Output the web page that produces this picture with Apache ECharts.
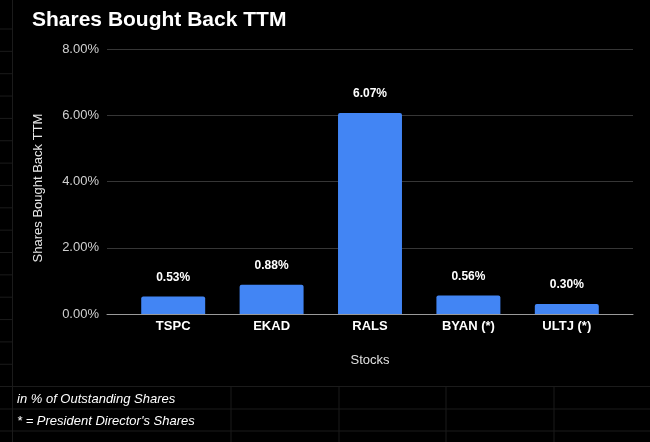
<!DOCTYPE html>
<html><head><meta charset="utf-8">
<script src="https://cdn.jsdelivr.net/npm/echarts@6/dist/echarts.min.js"></script>
<style>html,body{margin:0;padding:0;background:#000;}#c{width:650px;height:442px;}</style>
</head><body><div id="c"></div>
<script>
const categories = ['TSPC', 'EKAD', 'RALS', 'BYAN (*)', 'ULTJ (*)'];
const values = [0.53, 0.88, 6.07, 0.56, 0.30];
const yTicks = [0, 2, 4, 6, 8];
const footnotes = ['in % of Outstanding Shares', "* = President Director's Shares"];

const F = 'Liberation Sans, Arial, sans-serif';
const chart = echarts.init(document.getElementById('c'), null, {renderer: 'canvas'});

// faint spreadsheet cell lines behind chart
const sheet = [];
const cellCol = '#1b1b1b';
for (let y = 29; y < 385; y += 22.35) sheet.push({type:'line', shape:{x1:0,y1:y,x2:12,y2:y}, style:{stroke:cellCol,lineWidth:1}, z:-1});
[386.5, 409, 431].forEach(y => sheet.push({type:'line', shape:{x1:0,y1:y,x2:650,y2:y}, style:{stroke:cellCol,lineWidth:1}, z:-1}));
sheet.push({type:'line', shape:{x1:12.5,y1:0,x2:12.5,y2:442}, style:{stroke:cellCol,lineWidth:1}, z:-1});
[231, 339, 446, 554].forEach(x => sheet.push({type:'line', shape:{x1:x,y1:387,x2:x,y2:442}, style:{stroke:cellCol,lineWidth:1}, z:-1}));

chart.setOption({
  backgroundColor: '#000',
  animation: false,
  title: {
    text: 'Shares Bought Back TTM', left: 27, top: 5,
    textStyle: {color: '#fff', fontFamily: F, fontSize: 21, fontWeight: 'bold'}
  },
  graphic: sheet.concat(footnotes.map((t, i) => ({
    type: 'text', left: 17, top: 393 + i * 22,
    style: {text: t, fill: '#fff', font: 'italic 13px ' + F}
  }))).concat([{
    type: 'text', x: 38, y: 188, rotation: Math.PI / 2,
    style: {text: 'Shares Bought Back TTM', fill: '#e8e8e8', font: '13px ' + F,
            align: 'center', verticalAlign: 'middle'}
  }]),
  grid: [
    {left: 107, right: 17, top: 49, bottom: 128},
    {left: 124, width: 492, top: 49, bottom: 128}
  ],
  xAxis: [
    {gridIndex: 0, type: 'category', data: [''], axisLine: {show: true, lineStyle: {color: '#9a9a9a'}},
     axisTick: {show: false}, axisLabel: {show: false}},
    {gridIndex: 1, type: 'category', data: categories,
     name: 'Stocks', nameLocation: 'middle', nameGap: 40,
     nameTextStyle: {color: '#e0e0e0', fontFamily: F, fontSize: 13},
     axisLine: {show: false}, axisTick: {show: false},
     axisLabel: {color: '#fff', fontFamily: F, fontSize: 13, fontWeight: 'bold', margin: 6}}
  ],
  yAxis: [
    {gridIndex: 0, type: 'value', min: yTicks[0], max: yTicks[yTicks.length - 1], interval: 2,
     axisLine: {show: false}, axisTick: {show: false},
     axisLabel: {color: '#d0d0d0', fontFamily: F, fontSize: 13, margin: 8,
                 formatter: v => v.toFixed(2) + '%'},
     splitLine: {lineStyle: {color: '#363636', width: 1}}},
    {gridIndex: 1, type: 'value', min: yTicks[0], max: yTicks[yTicks.length - 1], show: false,
     splitLine: {show: false}}
  ],
  series: [{
    type: 'bar', xAxisIndex: 1, yAxisIndex: 1, data: values,
    barCategoryGap: '35%',
    itemStyle: {color: '#4285F4', borderRadius: [2, 2, 0, 0]},
    label: {show: true, position: 'top', distance: 13, color: '#fff', fontFamily: F,
            fontSize: 12, fontWeight: 'bold', formatter: p => p.value.toFixed(2) + '%'}
  }]
});
</script></body></html>
